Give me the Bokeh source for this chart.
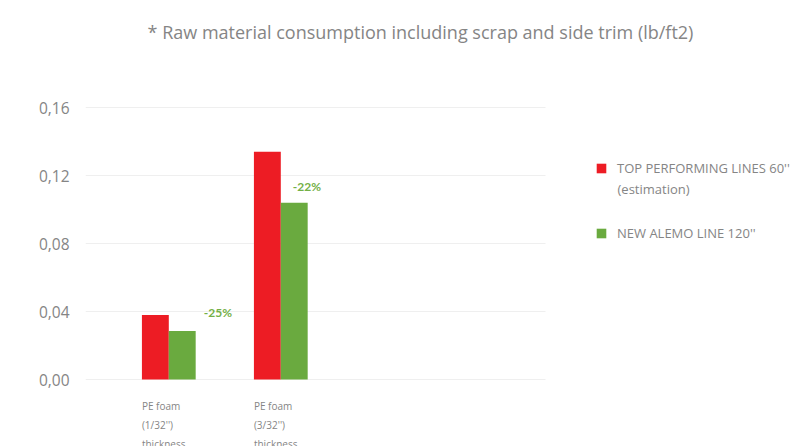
from bokeh.plotting import figure
from bokeh.models import (ColumnDataSource, Label, Legend, LegendItem, FixedTicker,
                          CustomJSTickFormatter, Range1d)
from bokeh.embed import file_html
from bokeh.resources import INLINE

# ---- data ----
categories = ["PE foam\n(1/32'')\nthickness", "PE foam\n(3/32'')\nthickness"]
top_performing = [0.038, 0.134]
new_alemo = [0.0285, 0.104]
reductions = ["-25%", "-22%"]
series_names = ["TOP PERFORMING LINES 60''\n(estimation)", "NEW ALEMO LINE 120''"]
y_ticks = [0.0, 0.04, 0.08, 0.12, 0.16]
title_text = "* Raw material consumption including scrap and side trim (lb/ft2)"

# ---- style ----
FONT = "Open Sans"
RED = "#ed1c24"
GREEN = "#6aaa3f"
ANNOT_GREEN = "#74b047"
TEXT_GRAY = "#858585"
GRID = "#efefef"
BAR_W = 0.24
DODGE = 0.12
annot_dx = [35, 12]   # px offsets of reduction labels from group centre
annot_dy = [19, 16]

W, H = 806, 446
FL = 85                     # frame left (px)
PX_X = 112.0                # px per category step
X0_PX = 168.3               # px of first group centre
Y0_PX, Y16_PX = 379.0, 107.0
PX_Y = (Y0_PX - Y16_PX) / 0.16
GRID_RIGHT_PX = 545

x_start = 1 - (X0_PX - FL) / PX_X
x_end = 1 + (W - X0_PX) / PX_X
y_start = -(H - Y0_PX) / PX_Y
y_end = 0.16 + Y16_PX / PX_Y
grid_right = 1 + (GRID_RIGHT_PX - X0_PX) / PX_X

pos = [i + 1 for i in range(len(categories))]

src = ColumnDataSource(dict(
    x_red=[p - DODGE for p in pos],
    x_green=[p + DODGE for p in pos],
    red=top_performing,
    green=new_alemo,
))

p = figure(width=W, height=H, output_backend="svg", toolbar_location=None,
           x_range=Range1d(x_start, x_end), y_range=Range1d(y_start, y_end),
           min_border_left=FL, min_border_right=0, min_border_top=0,
           min_border_bottom=0)
p.outline_line_color = None
p.background_fill_color = "white"
p.border_fill_color = "white"
p.xaxis.visible = False
p.xgrid.visible = False
p.ygrid.visible = False

# horizontal gridlines limited to the chart area
p.segment(x0=[x_start] * len(y_ticks), x1=[grid_right] * len(y_ticks), y0=y_ticks, y1=y_ticks,
          line_color=GRID, line_width=1)

r_red = p.vbar(x="x_red", top="red", width=BAR_W, source=src, fill_color=RED, line_color=None)
r_green = p.vbar(x="x_green", top="green", width=BAR_W, source=src, fill_color=GREEN, line_color=None)

ya = p.yaxis[0]
ya.ticker = FixedTicker(ticks=y_ticks)
ya.formatter = CustomJSTickFormatter(code="return tick.toFixed(2).replace('.', ',');")
ya.axis_line_color = None
ya.major_tick_line_color = None
ya.minor_tick_line_color = None
ya.major_tick_out = 0
ya.major_tick_in = 0
ya.major_label_standoff = 16
ya.major_label_text_font = FONT
ya.major_label_text_font_size = "15.5px"
ya.major_label_text_color = TEXT_GRAY

# title (screen coords relative to frame: x from frame left, y up from bottom)
p.add_layout(Label(x=420 - FL, y=H - 31, x_units="screen", y_units="screen", text=title_text,
                   text_font=FONT, text_font_size="18px", text_color=TEXT_GRAY,
                   text_align="center", text_baseline="middle"))

# category labels (left aligned under each group)
for cx, cat in zip(pos, categories):
    for j, line in enumerate(cat.split("\n")):
        p.add_layout(Label(x=cx - 2 * DODGE, y=H - (405 + 19 * j), x_units="data",
                           y_units="screen", text=line, x_offset=0,
                           text_font=FONT, text_font_size="10px", text_color=TEXT_GRAY,
                           text_align="left", text_baseline="middle"))

# reduction annotations
for cx, g, txt, dx, dy in zip(pos, new_alemo, reductions, annot_dx, annot_dy):
    p.add_layout(Label(x=cx, y=g, text=txt, x_offset=dx, y_offset=dy,
                       text_font="Lato", text_font_size="12px", text_font_style="bold",
                       text_color=ANNOT_GREEN, text_align="left", text_baseline="middle"))

# legend: first line of each series name in the legend, extra lines as labels below
legend_lines = [s.split("\n") for s in series_names]
legend = Legend(items=[LegendItem(label=legend_lines[0][0], renderers=[r_red]),
                       LegendItem(label=legend_lines[1][0], renderers=[r_green])],
                location=(595 - FL, H - 242), orientation="vertical")
legend.border_line_color = None
legend.background_fill_alpha = 0
legend.padding = 0
legend.margin = 0
legend.spacing = 47
legend.label_height = 16
legend.glyph_width = 12
legend.glyph_height = 12
legend.label_standoff = 10
legend.label_text_font = FONT
legend.label_text_font_size = "13px"
legend.label_text_color = TEXT_GRAY
p.add_layout(legend, "center")

for k, extra in enumerate(legend_lines[0][1:]):
    p.add_layout(Label(x=617 - FL, y=H - (188 + 17 * k), x_units="screen", y_units="screen",
                       text=extra, text_font=FONT, text_font_size="13px",
                       text_color=TEXT_GRAY, text_align="left", text_baseline="middle"))

open("out.html", "w").write(file_html(p, INLINE))
